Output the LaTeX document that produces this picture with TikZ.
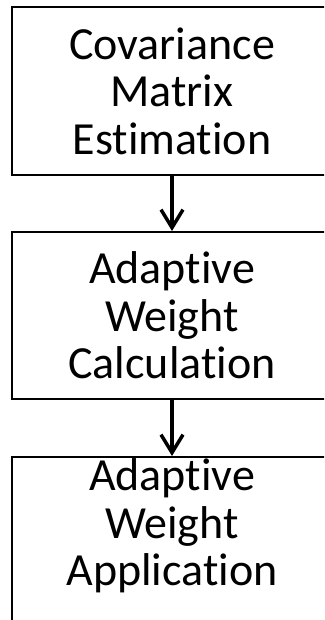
\documentclass[tikz,border=0pt]{standalone}
\usepackage{fontspec}
\setmainfont{Carlito}[Ligatures=NoCommon]
\usetikzlibrary{arrows.meta}
\begin{document}
\begin{tikzpicture}[x=1pt,y=-1pt,
  stepbox/.style={draw=black, line width=2pt, minimum width=320pt, align=center,
    inner xsep=0pt, inner ysep=2pt,
    font=\fontsize{46}{47.5}\selectfont},
  flow/.style={line width=3.5pt, -{Straight Barb[length=18pt,width=22pt,line width=3.5pt]}}]
\useasboundingbox (0,0) rectangle (324,620);
\clip (0,0) rectangle (324,620);
\fill[white] (0,0) rectangle (324,620);
\node[stepbox, minimum height=168pt] (cme) at (172,91) {Covariance\\Matrix\\Estimation};
\node[stepbox, minimum height=167pt] (awc) at (172,315.5) {Adaptive\\Weight\\Calculation};
\node[stepbox, anchor=north] (awa) at (172,456) {Adaptive\\Weight\\Application\rule[-60pt]{0pt}{0pt}};
\draw[flow] (cme.south) -- (awc.north);
\draw[flow] (awc.south) -- (awa.north);
\end{tikzpicture}
\end{document}
